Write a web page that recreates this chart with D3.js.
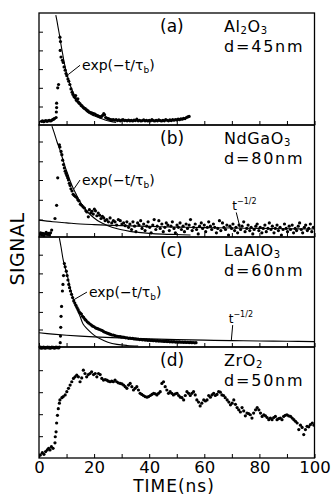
<!DOCTYPE html>
<html>
<head>
<meta charset="utf-8">
<script src="https://cdn.jsdelivr.net/npm/d3@7"></script>
<style>
    body { margin: 0; background: #fff; }
    svg { display: block; font-family: 'DejaVu Sans', sans-serif; }
</style>
</head>
<body>
<div id="chart"></div>
<script>
// time axis (ns)
const timeTicks = [0, 10, 20, 30, 40, 50, 60, 70, 80, 90, 100];
const timeLabels = [0, 20, 40, 60, 80, 100];

const panelTags = ['(a)', '(b)', '(c)', '(d)'];
const materials = ['Al2O3', 'NdGaO3', 'LaAlO3', 'ZrO2'];
const thickness = ['d=45nm', 'd=80nm', 'd=60nm', 'd=50nm'];

// signal ticks on the left edge, in signal units
const sigTicksA = [0.15, 0.32, 0.49, 0.66, 0.83];
const sigTicksB = [0.14, 0.32, 0.5, 0.67, 0.85];
const sigTicksC = [0.15, 0.31, 0.49, 0.66, 0.83];
const sigTicksD = [0.18, 0.38, 0.58, 0.78];

// [time ns, signal]
const signalA = [
    [0.9, 0.015], [1.3, 0.02], [1.7, 0.012], [2.1, 0.018], [2.5, 0.022], [2.9, 0.015], [3.3, 0.02],
    [3.7, 0.025], [4.1, 0.018], [4.5, 0.022], [4.9, 0.03], [5.3, 0.035], [5.6, 0.04],
    [6.2, 0.05], [6.3, 0.1], [6.4, 0.14], [6.4, 0.18], [6.8, 0.32], [7.1, 0.35],
    [7.6, 0.78], [7.8, 0.74], [7.7, 0.66], [8.0, 0.6], [8.5, 0.57], [8.8, 0.55], [9.1, 0.51],
    [9.5, 0.48], [9.8, 0.45], [10.1, 0.43], [10.5, 0.4], [10.8, 0.38], [11.2, 0.35], [11.6, 0.31],
    [12.0, 0.28], [12.3, 0.26], [12.7, 0.24], [13.1, 0.23], [13.3, 0.25], [13.5, 0.21], [13.8, 0.2],
    [14.1, 0.22], [14.3, 0.19], [14.6, 0.18], [14.9, 0.175], [15.3, 0.16], [15.6, 0.155], [16.0, 0.145],
    [16.4, 0.135], [16.8, 0.13], [17.3, 0.12], [17.8, 0.11], [18.3, 0.1], [18.8, 0.095], [19.3, 0.09],
    [19.8, 0.085], [20.3, 0.08], [20.8, 0.072], [21.3, 0.068], [21.8, 0.06], [22.2, 0.056], [22.7, 0.06],
    [23.1, 0.07], [23.5, 0.085], [23.8, 0.075], [24.2, 0.05], [24.6, 0.045], [25.1, 0.04],
    [25.5, 0.035], [26.0, 0.03], [26.5, 0.028], [27.0, 0.032], [27.5, 0.025], [28.0, 0.03], [28.5, 0.022],
    [29.0, 0.028], [29.5, 0.02], [30.0, 0.026], [30.5, 0.03], [31.0, 0.022], [31.5, 0.025], [32.0, 0.02],
    [32.5, 0.027], [33.0, 0.02], [33.5, 0.024], [34.0, 0.018], [34.5, 0.026], [35.0, 0.022], [35.5, 0.035],
    [36.0, 0.02], [36.5, 0.025], [37.0, 0.018], [37.5, 0.022], [38.0, 0.028], [38.5, 0.02], [39.0, 0.024],
    [39.5, 0.018], [40.0, 0.025], [40.5, 0.02], [41.0, 0.03], [41.5, 0.022], [42.0, 0.018], [42.5, 0.025],
    [43.0, 0.02], [43.5, 0.028], [44.0, 0.022], [44.5, 0.018], [45.0, 0.025], [45.5, 0.02], [46.0, 0.03],
    [46.5, 0.025], [47.0, 0.02], [47.5, 0.028], [48.0, 0.022], [48.5, 0.03], [49.0, 0.025], [49.5, 0.032],
    [50.0, 0.028], [50.5, 0.035], [51.0, 0.03], [51.5, 0.038], [52.0, 0.035], [52.5, 0.042], [53.0, 0.04],
    [53.5, 0.05], [54.0, 0.055], [54.5, 0.06]
];
const expFitA = [
    [6.1, 0.98], [6.5, 0.93], [7, 0.86], [7.5, 0.79], [8, 0.71], [8.5, 0.64], [9, 0.57], [9.5, 0.51],
    [10, 0.455], [11, 0.37], [12, 0.3], [13, 0.245], [14, 0.2], [15, 0.165], [16, 0.135], [18, 0.09],
    [20, 0.065], [22, 0.045], [24, 0.028], [26, 0.015], [28, 0.005]
];

const signalB = [
    [0.2, 0.005], [0.6, 0.02], [1.0, 0.0], [1.4, 0.015], [1.8, -0.005], [2.2, 0.01], [2.6, 0.025],
    [3.0, 0.005], [3.4, 0.015], [3.8, 0.0], [4.2, 0.02], [4.6, 0.045],
    [5.8, 0.15], [6.4, 0.27], [6.8, 0.52], [7.4, 0.82],
    [7.6, 0.8], [8.0, 0.76], [8.3, 0.73], [8.6, 0.68], [8.9, 0.64], [9.2, 0.61], [9.5, 0.58], [9.8, 0.56],
    [10.1, 0.54], [10.4, 0.52], [10.7, 0.5], [11.0, 0.47], [11.3, 0.45], [11.6, 0.42], [12.0, 0.4],
    [12.4, 0.37], [12.8, 0.36], [13.2, 0.35], [13.7, 0.34], [14.1, 0.32], [14.5, 0.31], [15.0, 0.28],
    [15.5, 0.27], [16.0, 0.255], [16.5, 0.245], [17.0, 0.22], [17.4, 0.21], [17.9, 0.165], [18.3, 0.23],
    [18.8, 0.2], [19.2, 0.215], [19.7, 0.19], [20.1, 0.235], [20.5, 0.22], [21.0, 0.175], [21.5, 0.2],
    [22.0, 0.18], [22.5, 0.15], [23.0, 0.17], [23.5, 0.155], [24.0, 0.13], [24.6, 0.14], [25.2, 0.12],
    [25.8, 0.155], [26.4, 0.11], [27.0, 0.13], [27.6, 0.12], [28.2, 0.09], [28.8, 0.14], [29.5, 0.13],
    [30.1, 0.1], [30.7, 0.11], [31.3, 0.085], [31.9, 0.12],
    [32.5, 0.07], [33.0, 0.1], [33.6, 0.05], [34.1, 0.12], [34.7, 0.08], [35.2, 0.03], [35.8, 0.11],
    [36.3, 0.09], [36.9, 0.13], [37.4, 0.06], [38.0, 0.1], [38.5, 0.04], [39.1, 0.08], [39.6, 0.12],
    [40.2, 0.07], [40.7, 0.02], [41.3, 0.09], [41.8, 0.14], [42.4, 0.05], [42.9, 0.08], [43.5, 0.13],
    [44.0, 0.06], [44.6, 0.1], [45.1, 0.03], [45.7, 0.07], [46.2, 0.11], [46.8, 0.09], [47.3, 0.04],
    [47.9, 0.08], [48.4, 0.12], [49.0, 0.06], [49.5, 0.02], [50.1, 0.09], [50.6, 0.07], [51.2, 0.11],
    [51.7, 0.05], [52.3, 0.08], [52.8, 0.03], [53.4, 0.1], [53.9, 0.06], [54.5, 0.09], [55.0, 0.14],
    [55.6, 0.04], [56.1, 0.07], [56.7, 0.1], [57.2, 0.05], [57.8, 0.01], [58.3, 0.08], [58.9, 0.11],
    [59.4, 0.06], [60.0, 0.09], [60.5, 0.03], [61.1, 0.07], [61.6, 0.12], [62.2, 0.08], [62.7, 0.05],
    [63.3, 0.1], [63.8, 0.07], [64.4, 0.02], [64.9, 0.06], [65.5, 0.13], [66.0, 0.04], [66.6, 0.11],
    [67.1, 0.07], [67.7, 0.05], [68.2, 0.09], [68.8, 0.0], [69.3, 0.08], [69.9, 0.06], [70.4, 0.1],
    [71.0, 0.04], [71.5, 0.07], [72.1, 0.02], [72.6, 0.09], [73.2, 0.05], [73.7, 0.08], [74.3, 0.12],
    [74.8, 0.03], [75.4, 0.06], [75.9, 0.09], [76.5, 0.04], [77.0, 0.07], [77.6, 0.01], [78.1, 0.05],
    [78.7, 0.08], [79.2, 0.1], [79.8, 0.04], [80.3, 0.07], [80.9, 0.02], [81.4, 0.06], [82.0, 0.09],
    [82.5, 0.03], [83.1, 0.06], [83.6, 0.11], [84.2, 0.05], [84.7, 0.08], [85.3, 0.02], [85.8, 0.06],
    [86.4, 0.09], [86.9, 0.04], [87.5, 0.07], [88.0, 0.0], [88.6, 0.05], [89.1, 0.1], [89.7, 0.06],
    [90.2, 0.03], [90.8, 0.08], [91.3, 0.05], [91.9, 0.09], [92.4, 0.02], [93.0, 0.06], [93.5, 0.04],
    [94.1, 0.08], [94.6, 0.11], [95.2, 0.05], [95.7, 0.02], [96.3, 0.07], [96.8, 0.09], [97.4, 0.04],
    [97.9, 0.06], [98.5, 0.1], [99.0, 0.03], [99.6, 0.07]
];
const expFitB = [
    [4.7, 0.99], [5.5, 0.93], [6.5, 0.85], [7.5, 0.78], [8.5, 0.7], [9.5, 0.62], [10.5, 0.55],
    [11.5, 0.48], [12.5, 0.42], [13.5, 0.37], [14.5, 0.32], [15.5, 0.28], [16.5, 0.245], [18, 0.2],
    [20, 0.155], [22, 0.12], [24, 0.095], [26, 0.075], [28, 0.06], [30, 0.047], [33, 0.033],
    [36, 0.024], [40, 0.015], [45, 0.008], [50, 0.004], [55, 0.0]
];
const powFitB = [
    [0, 0.135], [5, 0.12], [10, 0.11], [15, 0.1], [20, 0.094], [30, 0.085], [40, 0.078], [50, 0.072],
    [60, 0.067], [70, 0.063], [80, 0.06], [90, 0.057], [100, 0.055]
];

const signalC = [
    [0.2, -0.015], [0.5, -0.01], [0.8, -0.02], [1.1, -0.012], [1.4, -0.018], [1.7, -0.01], [2.0, -0.015],
    [2.3, -0.02], [2.6, -0.012], [2.9, -0.016], [3.2, -0.01], [3.5, -0.018], [3.8, -0.012], [4.1, -0.02],
    [4.4, -0.015], [4.7, -0.01], [5.0, -0.016], [5.3, -0.012], [5.6, -0.02], [5.9, -0.014], [6.2, -0.01],
    [6.5, -0.016], [6.8, -0.012], [7.1, -0.018], [7.4, -0.01],
    [7.7, 0.03], [7.8, 0.09], [7.9, 0.17], [8.0, 0.27], [8.2, 0.36], [8.5, 0.5], [8.7, 0.56], [8.9, 0.64],
    [9.2, 0.75], [9.5, 0.72], [9.9, 0.68], [10.2, 0.64], [10.5, 0.6], [10.8, 0.56], [11.1, 0.53],
    [11.4, 0.5], [11.8, 0.47], [12.2, 0.44], [12.6, 0.41], [13.0, 0.39], [13.4, 0.37], [13.8, 0.35],
    [14.2, 0.33], [14.6, 0.31], [15.0, 0.3], [15.4, 0.29], [15.8, 0.27], [16.2, 0.26], [16.6, 0.245],
    [17.0, 0.235], [17.5, 0.22], [18.0, 0.21], [18.5, 0.2], [19.0, 0.19], [19.5, 0.18], [20.0, 0.175],
    [20.5, 0.165], [21.0, 0.16], [21.5, 0.155], [22.0, 0.15], [22.5, 0.145], [23.0, 0.14], [23.5, 0.13],
    [24.0, 0.125], [24.5, 0.12], [25.0, 0.115], [25.5, 0.11], [26.0, 0.105], [26.5, 0.1], [27.0, 0.1],
    [27.5, 0.095], [28.0, 0.09], [28.5, 0.088], [29.0, 0.085], [29.5, 0.085], [30.0, 0.08], [30.5, 0.082],
    [31.0, 0.078], [31.5, 0.074], [32.0, 0.075], [32.5, 0.07], [33.0, 0.072], [33.5, 0.068], [34.0, 0.07],
    [34.5, 0.064], [35.0, 0.065], [35.5, 0.062], [36.0, 0.063], [36.5, 0.058], [37.0, 0.06], [37.5, 0.056],
    [38.0, 0.058], [38.5, 0.054], [39.0, 0.056], [39.5, 0.052], [40.0, 0.054], [40.5, 0.05], [41.0, 0.052],
    [41.5, 0.048], [42.0, 0.05], [42.5, 0.046], [43.0, 0.048], [43.5, 0.045], [44.0, 0.047], [44.5, 0.043],
    [45.0, 0.045], [45.5, 0.042], [46.0, 0.044], [46.5, 0.04], [47.0, 0.042], [47.5, 0.038], [48.0, 0.04],
    [48.5, 0.037], [49.0, 0.04], [49.5, 0.036], [50.0, 0.038], [50.5, 0.035], [51.0, 0.037], [51.5, 0.034],
    [52.0, 0.036], [52.5, 0.033], [53.0, 0.035], [53.5, 0.032], [54.0, 0.034], [54.5, 0.031], [55.0, 0.033],
    [55.5, 0.03], [56.0, 0.032], [56.5, 0.029], [57.0, 0.03]
];
const expFitC = [
    [7.4, 0.98], [8, 0.9], [8.8, 0.78], [9.5, 0.71], [10.1, 0.66], [11.3, 0.53], [12.5, 0.42],
    [13.7, 0.34], [14.9, 0.27], [16, 0.2], [17.3, 0.16], [19, 0.12], [20.5, 0.09], [22.2, 0.065],
    [25, 0.035], [28.3, 0.015], [32, 0.005], [36, 0.0]
];
const powFitC = [
    [0, 0.12], [5, 0.108], [10, 0.098], [15, 0.09], [20, 0.083], [30, 0.073], [40, 0.065], [50, 0.058],
    [60, 0.053], [70, 0.049], [80, 0.046], [90, 0.043], [100, 0.04]
];

const signalD = [
    [0.0, 0.0], [0.5, 0.01], [1.2, 0.03], [1.8, 0.015], [2.4, 0.04], [3.0, 0.055], [3.5, 0.07], [4.0, 0.055],
    [4.5, 0.085], [5.1, 0.07], [5.8, 0.12], [5.9, 0.175], [6.2, 0.22], [6.4, 0.3], [6.7, 0.37], [7.0, 0.43],
    [7.4, 0.48], [7.6, 0.51], [8.3, 0.53], [8.8, 0.54], [9.5, 0.555], [10.1, 0.585], [10.7, 0.615],
    [11.3, 0.645], [11.9, 0.675], [12.5, 0.705], [13.1, 0.72], [13.7, 0.735], [14.3, 0.72], [14.9, 0.675],
    [15.5, 0.71], [16.1, 0.78], [16.7, 0.75], [17.3, 0.72], [17.9, 0.74], [18.5, 0.75], [19.1, 0.765],
    [19.8, 0.74], [20.4, 0.75], [21.0, 0.72], [21.6, 0.75], [22.2, 0.74], [22.8, 0.705], [23.4, 0.69],
    [24.0, 0.695], [24.6, 0.69], [25.2, 0.68], [25.8, 0.675], [26.4, 0.68], [27.0, 0.675], [27.6, 0.69],
    [28.2, 0.675], [28.8, 0.665], [29.5, 0.66], [30.1, 0.655], [30.7, 0.645], [31.3, 0.63], [31.9, 0.615],
    [32.5, 0.645], [33.1, 0.66], [33.7, 0.63], [34.3, 0.6], [34.9, 0.615], [35.5, 0.63], [36.1, 0.6],
    [36.7, 0.57], [37.3, 0.56], [37.9, 0.55], [38.5, 0.54], [39.2, 0.535], [39.8, 0.54], [40.4, 0.55],
    [41.0, 0.56], [41.6, 0.57], [42.2, 0.565], [42.8, 0.555], [43.4, 0.57], [44.0, 0.585], [44.6, 0.66],
    [45.2, 0.675], [45.8, 0.63], [46.4, 0.6], [47.0, 0.57], [47.6, 0.585], [48.2, 0.57], [48.8, 0.555],
    [49.5, 0.565], [50.1, 0.57], [50.7, 0.55], [51.3, 0.535], [51.9, 0.53], [52.5, 0.51], [53.1, 0.55],
    [53.7, 0.585], [54.3, 0.57], [54.9, 0.55], [55.5, 0.57], [56.1, 0.585], [56.7, 0.555], [57.3, 0.51],
    [57.9, 0.49], [58.5, 0.455], [59.1, 0.48], [59.8, 0.51], [60.4, 0.5], [61.0, 0.51], [61.6, 0.55],
    [62.2, 0.535], [62.8, 0.555], [63.4, 0.57], [64.0, 0.55], [64.6, 0.56], [65.2, 0.585], [65.8, 0.58],
    [66.4, 0.555], [67.0, 0.55], [67.6, 0.53], [68.3, 0.51], [68.9, 0.49], [69.5, 0.465], [70.1, 0.48],
    [70.7, 0.51], [71.3, 0.47], [71.9, 0.44], [72.5, 0.42], [73.1, 0.4], [73.7, 0.44], [74.3, 0.41],
    [74.9, 0.365], [75.5, 0.39], [76.1, 0.385], [76.7, 0.375], [77.3, 0.345], [77.9, 0.39], [78.6, 0.42],
    [79.2, 0.44], [79.8, 0.42], [80.4, 0.39], [81.0, 0.36], [81.6, 0.375], [82.2, 0.365], [82.8, 0.35],
    [83.4, 0.33], [84.0, 0.345], [84.6, 0.33], [85.2, 0.35], [85.8, 0.36], [86.4, 0.33], [87.0, 0.34],
    [87.6, 0.345], [88.2, 0.33], [88.8, 0.36], [89.4, 0.37], [90.0, 0.375], [90.6, 0.365], [91.3, 0.36],
    [91.9, 0.345], [92.5, 0.33], [93.1, 0.315], [93.7, 0.3], [94.3, 0.24], [94.9, 0.28], [95.5, 0.26],
    [96.1, 0.195], [96.7, 0.24], [97.3, 0.27], [97.9, 0.265], [98.5, 0.285], [99.2, 0.3], [99.8, 0.28]
];

const signals = [signalA, signalB, signalC, signalD];
const expFits = [expFitA, expFitB, expFitC, null];
const powFits = [null, powFitB, powFitC, null];
const sigTicks = [sigTicksA, sigTicksB, sigTicksC, sigTicksD];

// layout
const width = 332, height = 496;
const panelTop = [13, 125, 237, 347];
const panelBottom = [125, 237, 347, 458];
const panelBase = [123, 235, 346, 456];
const unitPx = 110;

// leaders: [point on the fit, point at the label], in data units
const expLeader = [[[10.6, 0.44], [14.9, 0.525]], [[12.7, 0.42], [14.9, 0.5]], [[12.6, 0.42], [17.4, 0.49]], null];
const powLeader = [null, [[73, 0.063], [71.6, 0.205]], [[69.8, 0.05], [70.3, 0.19]], null];

const x = d3.scaleLinear().domain([0, 100]).range([39, 314.5]);

const svg = d3.select('#chart').append('svg')
    .attr('width', width)
    .attr('height', height);

panelTags.forEach((tag, i) => drawPanel(i));

// axis titles
svg.append('text')
    .attr('transform', 'translate(24,249) rotate(-90)')
    .attr('text-anchor', 'middle')
    .attr('font-size', 19)
    .attr('letter-spacing', 0.5)
    .text('SIGNAL');

svg.append('text')
    .attr('x', 174)
    .attr('y', 492)
    .attr('text-anchor', 'middle')
    .attr('font-size', 17)
    .attr('letter-spacing', 1)
    .text('TIME(ns)');

function drawPanel(i) {
    const y = d3.scaleLinear().domain([0, 1]).range([panelBase[i], panelBase[i] - unitPx]);
    const g = svg.append('g');

    g.append('clipPath').attr('id', 'clip' + i)
        .append('rect')
        .attr('x', x(0))
        .attr('y', panelTop[i])
        .attr('width', x(100) - x(0))
        .attr('height', panelBottom[i] - panelTop[i] + 3);

    const plot = g.append('g').attr('clip-path', `url(#clip${i})`);
    const line = d3.line()
        .x(d => x(d[0]))
        .y(d => y(d[1]))
        .curve(d3.curveCatmullRom);

    [expFits[i], powFits[i]].forEach(fit => {
        if (!fit) return;
        plot.append('path')
            .datum(fit)
            .attr('d', line)
            .attr('fill', 'none')
            .attr('stroke', '#000')
            .attr('stroke-width', 1.1);
    });

    plot.selectAll('.dot')
        .data(signals[i])
        .enter()
        .append('circle')
        .attr('class', 'dot')
        .attr('cx', d => x(d[0]))
        .attr('cy', d => y(d[1]))
        .attr('r', 1.6)
        .attr('fill', '#000');

    // frame
    g.append('rect')
        .attr('x', x(0))
        .attr('y', panelTop[i])
        .attr('width', x(100) - x(0))
        .attr('height', panelBottom[i] - panelTop[i])
        .attr('fill', 'none')
        .attr('stroke', '#000')
        .attr('stroke-width', 1.3);

    // time ticks on the bottom edge of every panel
    const xAxis = d3.axisBottom(x)
        .tickValues(timeTicks)
        .tickSize(-4)
        .tickPadding(3)
        .tickFormat(d => (i === 3 && timeLabels.includes(d)) ? d : '');
    g.append('g')
        .attr('transform', `translate(0,${panelBottom[i]})`)
        .call(xAxis)
        .call(a => a.select('.domain').remove())
        .attr('font-family', 'DejaVu Sans, sans-serif')
        .attr('font-size', 16.5);

    g.append('g')
        .attr('transform', `translate(${x(0)},0)`)
        .call(d3.axisLeft(y).tickValues(sigTicks[i]).tickSize(-4).tickFormat(''))
        .call(a => a.select('.domain').remove());

    // labels
    const top = panelTop[i];
    g.append('text')
        .attr('x', 160)
        .attr('y', top + 19)
        .attr('font-size', 17)
        .text(panelTags[i]);

    const mat = g.append('text')
        .attr('x', 224)
        .attr('y', top + 19)
        .attr('font-size', 16)
        .attr('letter-spacing', 0.6);
    let shifted = false;
    materials[i].split(/(\d)/).filter(s => s).forEach(s => {
        const sub = /\d/.test(s);
        mat.append('tspan')
            .attr('font-size', sub ? 10 : 16)
            .attr('dy', sub ? 2 : (shifted ? -2 : 0))
            .text(s);
        shifted = sub;
    });

    g.append('text')
        .attr('x', 224)
        .attr('y', top + 39)
        .attr('font-size', 16)
        .attr('letter-spacing', 1.8)
        .text(thickness[i]);

    if (expLeader[i]) {
        const [p0, p1] = expLeader[i];
        g.append('line')
            .attr('x1', x(p0[0])).attr('y1', y(p0[1]))
            .attr('x2', x(p1[0])).attr('y2', y(p1[1]))
            .attr('stroke', '#000').attr('stroke-width', 1);
        const lbl = g.append('text')
            .attr('x', x(p1[0]) + 2)
            .attr('y', y(p1[1]) + 5)
            .attr('font-size', 14);
        lbl.append('tspan').text('exp(\u2212t/\u03c4');
        lbl.append('tspan').attr('font-size', 9).attr('dy', 3).text('b');
        lbl.append('tspan').attr('dy', -3).text(')');
    }

    if (powLeader[i]) {
        const [p0, p1] = powLeader[i];
        g.append('line')
            .attr('x1', x(p0[0])).attr('y1', y(p0[1]))
            .attr('x2', x(p1[0])).attr('y2', y(p1[1]))
            .attr('stroke', '#000').attr('stroke-width', 1);
        const lbl = g.append('text')
            .attr('x', x(p1[0]) - 4)
            .attr('y', y(p1[1]) - 2)
            .attr('font-size', 12);
        lbl.append('tspan').text('t');
        lbl.append('tspan').attr('font-size', 8).attr('dy', -6).text('\u22121/2');
    }
}
</script>
</body>
</html>
